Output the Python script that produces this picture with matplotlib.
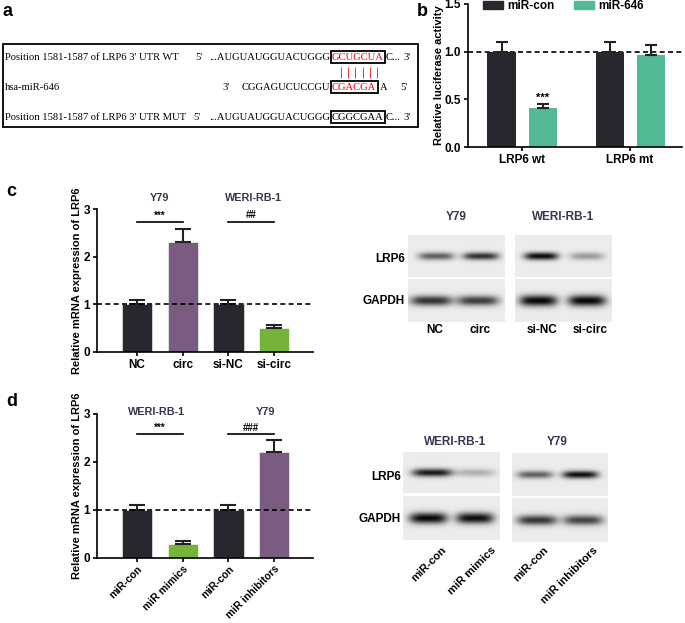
import matplotlib
matplotlib.use('Agg')
import matplotlib.pyplot as plt
import numpy as np
from matplotlib.patches import Rectangle, Patch

plt.rcParams['font.family'] = 'Liberation Sans'
plt.rcParams['font.weight'] = 'bold'

# %% data
b_groups = ['LRP6 wt', 'LRP6 mt']
b_series = ['miR-con', 'miR-646']
b_con = [1.0, 1.0]
b_con_err = [0.1, 0.1]
b_mir = [0.41, 0.97]
b_mir_err = [0.04, 0.1]

c_labels = ['NC', 'circ', 'si-NC', 'si-circ']
c_vals = [1.0, 2.3, 1.0, 0.5]
c_errs = [0.1, 0.27, 0.1, 0.07]
c_cells = ['Y79', 'WERI-RB-1']
c_sig = ['***', '##']

d_labels = ['miR-con', 'miR mimics', 'miR-con', 'miR inhibitors']
d_vals = [1.0, 0.3, 1.0, 2.2]
d_errs = [0.1, 0.05, 0.1, 0.25]
d_cells = ['WERI-RB-1', 'Y79']
d_sig = ['***', '###']

# band darkness (0..1) per lane, left blot / right blot
c_lrp6 = [[0.6, 0.8], [0.97, 0.35]]
c_gapdh = [[0.8, 0.75], [0.98, 0.98]]
d_lrp6 = [[0.9, 0.25], [0.6, 0.95]]
d_gapdh = [[0.98, 0.95], [0.78, 0.72]]

DARK = '#27272d'
TEAL = '#52ba95'
PURPLE = '#7a5c80'
GREEN = '#77b33a'
NAVY = '#36364f'

W, H = 685, 623
fig = plt.figure(figsize=(W / 100, H / 100), dpi=100)


def px_axes(x0, y0, x1, y1):
    return fig.add_axes([x0 / W, 1 - y1 / H, (x1 - x0) / W, (y1 - y0) / H])


ov = fig.add_axes([0, 0, 1, 1])
ov.set_xlim(0, W)
ov.set_ylim(H, 0)
ov.axis('off')

for lab, x, y in [('a', 3, 12), ('b', 417, 12), ('c', 6, 191), ('d', 6, 402)]:
    ov.text(x, y, lab, fontsize=13, fontweight='bold', va='center', ha='left')

# %% panel a
ov.add_patch(Rectangle((3, 44), 415, 83, fill=False, lw=1.3, ec='black'))
serif = dict(family='Liberation Serif', fontweight='normal', fontsize=7.6, va='center')
box = dict(boxstyle='square,pad=0.12', fc='none', ec='black', lw=1.3)
ov.text(5, 57, "Position 1581-1587 of LRP6 3' UTR WT", **serif)
ov.text(195, 57, "5'", **serif)
ov.text(330, 57, "...AUGUAUGGUACUGGG", ha='right', **serif)
ov.text(332, 57, "GCUGCUA", color='red', bbox=box, **serif)
ov.text(386, 57, "C...", **serif)
ov.text(403, 57, "3'", **serif)
ov.vlines(np.linspace(341, 377, 6), 67, 78, color='#ff3030', lw=0.7)
ov.text(5, 87, "hsa-miR-646", **serif)
ov.text(222, 87, "3'", **serif)
ov.text(330, 87, "CGGAGUCUCCGU", ha='right', **serif)
ov.text(332, 87, "CGACGA", color='red', bbox=box, **serif)
ov.text(380, 87, "A", **serif)
ov.text(400, 87, "5'", **serif)
ov.text(5, 117, "Position 1581-1587 of LRP6 3' UTR MUT", **serif)
ov.text(193, 117, "5'", **serif)
ov.text(330, 117, "...AUGUAUGGUACUGGG", ha='right', **serif)
ov.text(332, 117, "CGGCGAA", bbox=box, **serif)
ov.text(386, 117, "C...", **serif)
ov.text(403, 117, "3'", **serif)


def style(ax):
    for s in ['top', 'right']:
        ax.spines[s].set_visible(False)
    for s in ['left', 'bottom']:
        ax.spines[s].set_linewidth(1.2)
    ax.tick_params(width=1.2, length=3, labelsize=8.5, pad=2)
    for t in ax.get_xticklabels() + ax.get_yticklabels():
        t.set_fontweight('bold')


# %% panel b
axb = px_axes(468, 4, 682, 147)
xb = np.arange(len(b_groups))
axb.bar(xb - 0.19, b_con, 0.26, color=DARK, label=b_series[0])
axb.bar(xb + 0.19, b_mir, 0.26, color=TEAL, label=b_series[1])
axb.errorbar(xb - 0.19, b_con, yerr=[np.zeros(2), b_con_err], fmt='none', ecolor='#222', capsize=4, elinewidth=1.5, capthick=1.5)
axb.errorbar(xb + 0.19, b_mir, yerr=[np.zeros(2), b_mir_err], fmt='none', ecolor='#222', capsize=4, elinewidth=1.5, capthick=1.5)
axb.axhline(1.0, ls=(0, (3, 2)), color='black', lw=1.2, zorder=0.5)
axb.text(xb[0] + 0.19, b_mir[0] + b_mir_err[0] + 0.01, '***', ha='center', va='bottom', fontsize=8)
axb.set_xlim(-0.5, 1.48)
axb.set_ylim(0, 1.5)
axb.set_yticks([0, 0.5, 1.0, 1.5])
axb.set_yticklabels(['0.0', '0.5', '1.0', '1.5'])
axb.set_xticks(xb)
axb.set_xticklabels(b_groups)
axb.set_ylabel('Relative luciferase activity', fontsize=8, fontweight='bold')
axb.yaxis.set_label_coords(-0.11, 0.5)
style(axb)
handles = [Patch(color=DARK), Patch(color=TEAL)]
axb.legend(handles, b_series, ncol=2, frameon=False, loc='center', bbox_to_anchor=(0.445, 0.985),
           handlelength=1.7, handleheight=0.7, columnspacing=1.6, handletextpad=0.4,
           prop=dict(weight='bold', size=8.5))


# %% panels c, d bar charts
def qpcr(ax, labels, vals, errs, colors, cells, cell_x, cell_y, sig, sig_y, rotate):
    x = np.arange(len(labels))
    ax.bar(x, vals, 0.66, color=colors, edgecolor='white', linewidth=0.4)
    ax.errorbar(x, vals, yerr=[np.zeros(len(x)), errs], fmt='none', ecolor='#222', capsize=5.5, elinewidth=1.5, capthick=1.5)
    ax.axhline(1.0, ls=(0, (3, 2)), color='black', lw=1.2, zorder=3)
    ax.set_xlim(-0.876, 3.85)
    ax.set_ylim(0, 3)
    ax.set_yticks([0, 1, 2, 3])
    ax.set_xticks(x)
    style(ax)
    if rotate:
        ax.set_xticklabels(labels, rotation=45, ha='right', rotation_mode='anchor', fontsize=7.5, fontweight='bold')
        ax.tick_params(axis='x', pad=1)
    else:
        ax.set_xticklabels(labels, fontweight='bold')
    ax.set_ylabel('Relative mRNA expression of LRP6', fontsize=8, fontweight='bold')
    ax.yaxis.set_label_coords(-0.07, 0.5)
    for i, (cell, cx) in enumerate(zip(cells, cell_x)):
        ax.text(cx, cell_y, cell, ha='center', va='center', fontsize=7.8, color=NAVY, clip_on=False)
        ax.plot([2 * i, 2 * i + 1], [sig_y, sig_y], color='black', lw=1.2, clip_on=False)
        ax.text(2 * i + 0.5, sig_y + 0.03, sig[i], ha='center', va='bottom', fontsize=7, clip_on=False)


axc = px_axes(97, 209, 313, 352)
qpcr(axc, c_labels, c_vals, c_errs, [DARK, PURPLE, DARK, GREEN], c_cells, [0.5, 2.54], 3.23, c_sig, 2.73, False)
axd = px_axes(97, 414, 313, 558)
qpcr(axd, d_labels, d_vals, d_errs, [DARK, GREEN, DARK, PURPLE], d_cells, [0.42, 2.82], 3.04, d_sig, 2.58, True)


# %% western blots
def strip(x0, y0, x1, y1, dark, lanes, halfw, sig):
    w, h = int(x1 - x0) * 3, int(y1 - y0) * 3
    xx = np.arange(w) / 3.0
    yy = np.arange(h) / 3.0
    img = np.full((h, w), 0.925)
    for s, c in zip(dark, lanes):
        px = np.exp(-((xx - c * (x1 - x0)) / halfw) ** 4)
        py = np.exp(-((yy - (y1 - y0) / 2) / sig) ** 2)
        img -= 0.92 * s * np.outer(py, px)
    ov.imshow(np.clip(img, 0, 1), cmap='gray', vmin=0, vmax=1, extent=(x0, x1, y1, y0),
              aspect='auto', interpolation='bilinear')


strip(408, 235, 505, 277, c_lrp6[0], [0.29, 0.75], 18, 3.8)
strip(408, 279, 505, 322, c_gapdh[0], [0.24, 0.72], 21, 5.0)
strip(515, 235, 612, 277, c_lrp6[1], [0.27, 0.74], 17, 3.8)
strip(515, 279, 612, 322, c_gapdh[1], [0.24, 0.74], 19, 5.5)
strip(403, 452, 500, 493, d_lrp6[0], [0.3, 0.74], 20, 4.0)
strip(403, 496, 500, 540, d_gapdh[0], [0.26, 0.74], 19, 5.5)
strip(512, 453, 608, 496, d_lrp6[1], [0.24, 0.71], 18, 3.8)
strip(512, 498, 608, 542, d_gapdh[1], [0.26, 0.74], 20, 5.0)
ov.set_xlim(0, W)
ov.set_ylim(H, 0)

bl = dict(fontsize=8.5, fontweight='bold', va='center')
ov.text(405, 259, 'LRP6', ha='right', **bl)
ov.text(405, 301, 'GAPDH', ha='right', **bl)
ov.text(456, 217, c_cells[0], ha='center', color=NAVY, **bl)
ov.text(563, 217, c_cells[1], ha='center', color=NAVY, **bl)
for lab, x in zip(c_labels, [435, 480, 542, 590]):
    ov.text(x, 330, lab, ha='center', **bl)

ov.text(401, 477, 'LRP6', ha='right', **bl)
ov.text(401, 519, 'GAPDH', ha='right', **bl)
ov.text(455, 442, d_cells[0], ha='center', color=NAVY, **bl)
ov.text(557, 442, d_cells[1], ha='center', color=NAVY, **bl)
for lab, x in zip(d_labels, [441, 491, 543, 593]):
    ov.text(x, 545, lab, ha='right', va='top', rotation=45, rotation_mode='anchor',
            fontsize=8, fontweight='bold')

fig.savefig('out.png', dpi=100)
